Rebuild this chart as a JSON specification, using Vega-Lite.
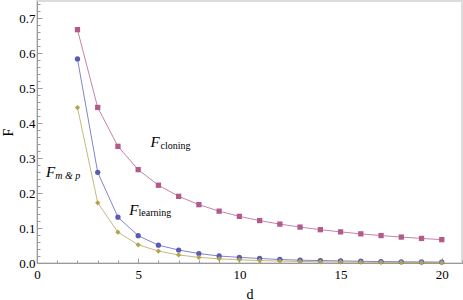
{
  "$schema": "https://vega.github.io/schema/vega-lite/v6.json",
  "autosize": "none",
  "width": 425,
  "height": 262,
  "padding": {"left": 37, "top": 1, "right": 1, "bottom": 37},
  "background": "white",
  "config": {
    "view": {"stroke": "#dcdcdc", "strokeWidth": 2},
    "font": "Liberation Serif",
    "axis": {
      "labelFont": "Liberation Serif",
      "labelFontSize": 13,
      "labelColor": "#000000",
      "titleFont": "Liberation Serif",
      "titleFontSize": 14,
      "titleFontWeight": "normal",
      "titleColor": "#000000",
      "domainColor": "#9a9a9a",
      "tickColor": "#9a9a9a",
      "grid": false
    }
  },
  "datasets": {
    "series": [
      {"d": 2, "series": "cloning", "F": 0.6667},
      {"d": 3, "series": "cloning", "F": 0.4444},
      {"d": 4, "series": "cloning", "F": 0.3333},
      {"d": 5, "series": "cloning", "F": 0.2667},
      {"d": 6, "series": "cloning", "F": 0.2222},
      {"d": 7, "series": "cloning", "F": 0.1905},
      {"d": 8, "series": "cloning", "F": 0.1667},
      {"d": 9, "series": "cloning", "F": 0.1481},
      {"d": 10, "series": "cloning", "F": 0.1333},
      {"d": 11, "series": "cloning", "F": 0.1212},
      {"d": 12, "series": "cloning", "F": 0.1111},
      {"d": 13, "series": "cloning", "F": 0.1026},
      {"d": 14, "series": "cloning", "F": 0.0952},
      {"d": 15, "series": "cloning", "F": 0.0889},
      {"d": 16, "series": "cloning", "F": 0.0833},
      {"d": 17, "series": "cloning", "F": 0.0784},
      {"d": 18, "series": "cloning", "F": 0.0741},
      {"d": 19, "series": "cloning", "F": 0.0702},
      {"d": 20, "series": "cloning", "F": 0.0667},
      {"d": 2, "series": "learning", "F": 0.583},
      {"d": 3, "series": "learning", "F": 0.259},
      {"d": 4, "series": "learning", "F": 0.131},
      {"d": 5, "series": "learning", "F": 0.078},
      {"d": 6, "series": "learning", "F": 0.051},
      {"d": 7, "series": "learning", "F": 0.037},
      {"d": 8, "series": "learning", "F": 0.027},
      {"d": 9, "series": "learning", "F": 0.020},
      {"d": 10, "series": "learning", "F": 0.016},
      {"d": 11, "series": "learning", "F": 0.013},
      {"d": 12, "series": "learning", "F": 0.010},
      {"d": 13, "series": "learning", "F": 0.008},
      {"d": 14, "series": "learning", "F": 0.007},
      {"d": 15, "series": "learning", "F": 0.006},
      {"d": 16, "series": "learning", "F": 0.005},
      {"d": 17, "series": "learning", "F": 0.004},
      {"d": 18, "series": "learning", "F": 0.0035},
      {"d": 19, "series": "learning", "F": 0.003},
      {"d": 20, "series": "learning", "F": 0.0026},
      {"d": 2, "series": "mp", "F": 0.444},
      {"d": 3, "series": "mp", "F": 0.172},
      {"d": 4, "series": "mp", "F": 0.088},
      {"d": 5, "series": "mp", "F": 0.052},
      {"d": 6, "series": "mp", "F": 0.034},
      {"d": 7, "series": "mp", "F": 0.023},
      {"d": 8, "series": "mp", "F": 0.016},
      {"d": 9, "series": "mp", "F": 0.012},
      {"d": 10, "series": "mp", "F": 0.009},
      {"d": 11, "series": "mp", "F": 0.007},
      {"d": 12, "series": "mp", "F": 0.0055},
      {"d": 13, "series": "mp", "F": 0.0045},
      {"d": 14, "series": "mp", "F": 0.0035},
      {"d": 15, "series": "mp", "F": 0.003},
      {"d": 16, "series": "mp", "F": 0.0024},
      {"d": 17, "series": "mp", "F": 0.002},
      {"d": 18, "series": "mp", "F": 0.0016},
      {"d": 19, "series": "mp", "F": 0.0014},
      {"d": 20, "series": "mp", "F": 0.0012}
    ],
    "labels": [
      {"text": "F", "part": "main", "d": 5.61, "F": 0.332},
      {"text": "cloning", "part": "sub", "d": 6.10, "F": 0.327},
      {"text": "F", "part": "main", "d": 4.56, "F": 0.137},
      {"text": "learning", "part": "sub", "d": 5.02, "F": 0.133},
      {"text": "F", "part": "main", "d": 0.44, "F": 0.247},
      {"text": "m & p", "part": "sub", "d": 0.90, "F": 0.2408}
    ]
  },
  "encoding": {
    "x": {
      "field": "d", "type": "quantitative",
      "scale": {"domain": [0, 21], "nice": false, "zero": false},
      "axis": {
        "title": "d",
        "labelFont": "Liberation Serif",
        "labelFontSize": 13,
        "values": [0,1,2,3,4,5,6,7,8,9,10,11,12,13,14,15,16,17,18,19,20,21],
        "labelExpr": "datum.value % 5 === 0 ? datum.label : ''",
        "tickSize": {"condition": {"test": "datum.value % 5 === 0", "value": -5}, "value": -3},
        "labelPadding": 10,
        "labelFlush": false,
        "titlePadding": 6
      }
    },
    "y": {
      "field": "F", "type": "quantitative",
      "scale": {"domain": [0, 0.7486], "nice": false, "zero": false},
      "axis": {
        "title": "F",
        "labelFont": "Liberation Serif",
        "labelFontSize": 13,
        "values": [0,0.02,0.04,0.06,0.08,0.1,0.12,0.14,0.16,0.18,0.2,0.22,0.24,0.26,0.28,0.3,0.32,0.34,0.36,0.38,0.4,0.42,0.44,0.46,0.48,0.5,0.52,0.54,0.56,0.58,0.6,0.62,0.64,0.66,0.68,0.7,0.72,0.74],
        "labelExpr": "abs(datum.value*10 - round(datum.value*10)) < 0.001 ? format(datum.value, '.1f') : ''",
        "tickSize": {"condition": {"test": "abs(datum.value*10 - round(datum.value*10)) < 0.001", "value": -5}, "value": -3},
        "labelPadding": 7,
        "labelFlush": false,
        "titlePadding": 3
      }
    }
  },
  "layer": [
    {
      "data": {"name": "series"},
      "mark": {"type": "line", "strokeWidth": 1, "opacity": 0.75},
      "encoding": {
        "color": {"field": "series", "type": "nominal", "legend": null,
          "scale": {"domain": ["cloning", "learning", "mp"], "range": ["#b25a8c", "#5a5ab8", "#b3a250"]}}
      }
    },
    {
      "data": {"name": "series"},
      "mark": {"type": "point", "filled": true, "opacity": 1, "size": 28},
      "encoding": {
        "color": {"field": "series", "type": "nominal", "legend": null,
          "scale": {"domain": ["cloning", "learning", "mp"], "range": ["#993d71", "#3d3d99", "#998b3d"]}},
        "shape": {"field": "series", "type": "nominal", "legend": null,
          "scale": {"domain": ["cloning", "learning", "mp"], "range": ["square", "circle", "diamond"]}}
      }
    },
    {
      "data": {"name": "labels"},
      "transform": [{"filter": "datum.part === 'main'"}],
      "mark": {"type": "text", "font": "Liberation Serif", "fontStyle": "italic", "fontSize": 15, "align": "left", "baseline": "alphabetic", "color": "#000000"},
      "encoding": {"text": {"field": "text"}}
    },
    {
      "data": {"name": "labels"},
      "transform": [{"filter": "datum.part === 'sub' && datum.text !== 'm & p'"}],
      "mark": {"type": "text", "font": "Liberation Serif", "fontSize": 10, "align": "left", "baseline": "alphabetic", "color": "#000000"},
      "encoding": {"text": {"field": "text"}}
    },
    {
      "data": {"name": "labels"},
      "transform": [{"filter": "datum.text === 'm & p'"}],
      "mark": {"type": "text", "font": "Liberation Serif", "fontStyle": "italic", "fontSize": 10, "align": "left", "baseline": "alphabetic", "color": "#000000"},
      "encoding": {"text": {"field": "text"}}
    }
  ]
}
